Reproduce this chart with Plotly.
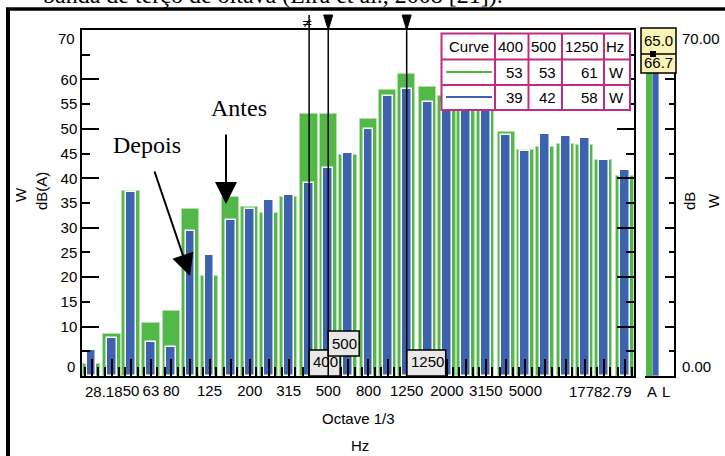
import numpy as np
import plotly.graph_objects as go

# 1/3-octave band centres (Hz)
bands = ["31.5", "40", "50", "63", "80", "100", "125", "160", "200", "250",
         "315", "400", "500", "630", "800", "1000", "1250", "1600", "2000",
         "2500", "3150", "4000", "5000", "6300", "8000", "10000", "12500", "16000"]
# Sound power level per band, before (Antes) and after (Depois)
antes = [2.5, 8.5, 37.5, 10.8, 13.2, 33.7, 20.3, 36.2, 34.1, 33.0,
         36.2, 53, 53, 44.7, 51.9, 57.9, 61, 58.5, 56.6,
         57.0, 56.0, 49.4, 45.8, 46.3, 47.0, 46.7, 43.8, 40.4]
depois = [5.3, 7.6, 37.2, 6.8, 5.9, 29.3, 24.5, 31.6, 33.8, 35.7,
          36.6, 39, 42, 45.2, 50.0, 56.7, 58, 55.4, 55.0,
          56.0, 55.0, 48.7, 45.6, 49.0, 48.5, 48.1, 43.6, 41.6]
labelled = ["50", "63", "80", "125", "200", "315", "500", "800",
            "1250", "2000", "3150", "5000"]
f_lo, f_hi = 28.18, 17782.79
cursor_bands = ["400", "500", "1250"]
total_names = ["A", "L"]
total_vals = [65.0, 66.7]
y_labels = [10, 15, 20, 25, 30, 35, 40, 45, 50, 55, 60]

GREEN = "#52b848"
BLUE = "#3e63ae"
MAGENTA = "#c22c80"
SANS = "Liberation Sans, Arial, sans-serif"
SERIF = "Liberation Serif, Times New Roman, serif"

W, H = 725, 456
ML, MR, MT, MB = 82, 51, 30, 80
PW, PH = W - ML - MR, H - MT - MB


def px(x):
    return (x - ML) / PW


def py(y):
    return (H - MB - y) / PH


xs = np.log10([float(b) for b in bands])
minor_vals = sorted([v + d for v in xs for d in (-1 / 30, 1 / 30)])

fig = go.Figure()
fig.add_bar(x=xs, y=antes, width=0.088, name="Antes",
            marker=dict(color=GREEN, line=dict(color="#b3dfab", width=1)))
fig.add_bar(x=xs, y=depois, width=0.05, name="Depois",
            marker=dict(color=BLUE, line=dict(color="white", width=1.5)))
# overall values panel
fig.add_bar(x=[0], y=[total_vals[0]], width=1, xaxis="x2", yaxis="y2",
            marker=dict(color=GREEN, line=dict(width=0)))
fig.add_bar(x=[1], y=[total_vals[1]], width=1, xaxis="x2", yaxis="y2",
            marker=dict(color=BLUE, line=dict(color="#8aa3d6", width=1)))
# carriers for the long-tick axes
fig.add_scatter(x=[None], y=[None], xaxis="x", yaxis="y3", showlegend=False)
fig.add_scatter(x=[None], y=[None], xaxis="x2", yaxis="y4", showlegend=False)

tick_common = dict(tickcolor="black", tickwidth=1.5, showgrid=False,
                   zeroline=False, linecolor="black", linewidth=1.5)

fig.update_layout(
    width=W, height=H, margin=dict(l=ML, r=MR, t=MT, b=MB),
    paper_bgcolor="white", plot_bgcolor="white", showlegend=False,
    barmode="overlay", bargap=0,
    font=dict(family=SANS, size=15, color="black"),
    xaxis=dict(domain=[0, 552 / PW], range=[np.log10(f_lo), np.log10(f_hi)],
               showline=True, mirror=True, ticks="inside", ticklen=17,
               tickvals=xs, ticktext=[b if b in labelled else "" for b in bands],
               minor=dict(ticks="inside", tickvals=minor_vals, ticklen=9,
                          tickcolor="black", tickwidth=1.5),
               tickfont=dict(size=15), **tick_common),
    yaxis=dict(domain=[0, 1], range=[0, 70], showline=True, mirror="ticks",
               ticks="inside", ticklen=8,
               tickvals=[5] + y_labels + [65],
               ticktext=[""] + [str(v) for v in y_labels] + [""],
               tickfont=dict(size=15), **tick_common),
    yaxis3=dict(overlaying="y", anchor="x", range=[0, 70], showline=True,
                mirror="ticks", ticks="inside", ticklen=17,
                tickvals=[10, 20, 30, 40, 50, 60], showticklabels=False,
                **tick_common),
    xaxis2=dict(domain=[px(645), 1], anchor="y2", range=[-0.67, 3.72],
                showline=True, ticks="", showticklabels=False, **tick_common),
    yaxis2=dict(domain=[0, 1], anchor="x2", side="right", range=[0, 70],
                showline=True, ticks="inside", ticklen=5,
                tickvals=list(range(5, 70, 5)), showticklabels=False,
                **tick_common),
    yaxis4=dict(overlaying="y2", anchor="x2", side="right", range=[0, 70],
                ticks="inside", ticklen=9, tickvals=[10, 20, 30, 40, 50, 60],
                showticklabels=False, **tick_common),
)

shapes = []
ann = []


def text(x, y, s, size=15, xanchor="center", family=SANS, angle=0, **kw):
    ann.append(dict(xref="paper", yref="paper", x=px(x), y=py(y), text=s,
                    showarrow=False, xanchor=xanchor, yanchor="middle",
                    textangle=angle, font=dict(family=family, size=size,
                                               color="black"), **kw))


# outer frame and cropped caption
shapes.append(dict(type="line", xref="paper", yref="paper", x0=px(8), x1=px(8),
                   y0=py(9), y1=py(460), line=dict(color="black", width=4)))
shapes.append(dict(type="line", xref="paper", yref="paper", x0=px(6), x1=px(730),
                   y0=py(9), y1=py(9), line=dict(color="black", width=3.5)))
text(505, -5, "banda de terço de oitava (Lira et al., 2008 [21]).", size=24,
     xanchor="right", family=SERIF)

# axis edge labels and titles
text(77, 38, "70", xanchor="right")
text(77, 366, "0", xanchor="right")
text(83, 391, f"{f_lo:.2f}", xanchor="left")
text(634, 391, f"{f_hi:.2f}", xanchor="right")
text(358, 418, "Octave 1/3")
text(360, 445, "Hz")
text(20, 195, "W", angle=-90)
text(41, 191, "dB(A)", angle=-90)
text(680, 38, "70.00", xanchor="left")
text(680, 366, "0.00", xanchor="left")
text(690, 201, "dB", angle=-90)
text(714, 201, "W", angle=-90)
text(651.5, 391, total_names[0])
text(666, 391, total_names[1])

# overall values box
shapes.append(dict(type="rect", xref="paper", yref="paper", x0=px(641), x1=px(676),
                   y0=py(28), y1=py(73), fillcolor="#faf3b4",
                   line=dict(color="black", width=1.5)))
shapes.append(dict(type="line", xref="paper", yref="paper", x0=px(641), x1=px(676),
                   y0=py(54), y1=py(54), line=dict(color="black", width=1.5)))
text(658.5, 41, f"{total_vals[0]:.1f}")
text(658.5, 63, f"{total_vals[1]:.1f}")
shapes.append(dict(type="rect", xref="paper", yref="paper", x0=px(650), x1=px(656),
                   y0=py(51), y1=py(57), fillcolor="black", line=dict(width=0)))

# cursor value boxes, lines and markers
box_geom = {"400": (31, 0, 26, 14.5), "500": (31, 20, 45, 33), "1250": (39, 0, 26, 14.5)}
for b in cursor_bands:
    xv = float(np.log10(float(b)))
    w, y0, y1, ty = box_geom[b]
    shapes.append(dict(type="rect", xref="x", yref="paper", xsizemode="pixel",
                       ysizemode="pixel", xanchor=xv, yanchor=0, x0=0, x1=w,
                       y0=y0, y1=y1, fillcolor="#e8e8e8",
                       line=dict(color="black", width=1.5)))
    ann.append(dict(xref="x", yref="paper", x=xv, y=0, xshift=w / 2 + 1,
                    yshift=ty, text=b, showarrow=False, xanchor="center",
                    yanchor="middle", font=dict(size=15, color="black")))
for b in cursor_bands:
    xv = float(np.log10(float(b)))
    shapes.append(dict(type="line", xref="x", yref="paper", x0=xv, x1=xv,
                       y0=0, y1=1 + 15 / PH, line=dict(color="black", width=1.5)))
    if b == "400":
        ann.append(dict(xref="x", yref="paper", x=xv, y=1, xshift=-2, yshift=8,
                        text="≠", showarrow=False, yanchor="middle",
                        font=dict(family="DejaVu Sans", size=13, color="black")))
    else:
        shapes.append(dict(type="path", xref="x", yref="paper", xsizemode="pixel",
                           ysizemode="pixel", xanchor=xv, yanchor=1,
                           path="M -4.5,15 L 4.5,15 L 0,0 Z", fillcolor="black",
                           line=dict(color="black", width=1)))

# cursor table
col_x = [441.5, 495, 528.5, 562, 604, 630]
row_y = [33.5, 59.5, 85, 110]
shapes.append(dict(type="rect", xref="paper", yref="paper", x0=px(col_x[0]),
                   x1=px(col_x[-1]), y0=py(row_y[0]), y1=py(row_y[-1]),
                   fillcolor="white", line=dict(color=MAGENTA, width=2)))
for cx in col_x[1:-1]:
    shapes.append(dict(type="line", xref="paper", yref="paper", x0=px(cx), x1=px(cx),
                       y0=py(row_y[0]), y1=py(row_y[-1]),
                       line=dict(color=MAGENTA, width=2)))
for ry in row_y[1:-1]:
    shapes.append(dict(type="line", xref="paper", yref="paper", x0=px(col_x[0]),
                       x1=px(col_x[-1]), y0=py(ry), y1=py(ry),
                       line=dict(color=MAGENTA, width=2)))
idx = [bands.index(b) for b in cursor_bands]
rows = [["Curve"] + cursor_bands + ["Hz"],
        [""] + [f"{antes[i]:.0f}" for i in idx] + ["W"],
        [""] + [f"{depois[i]:.0f}" for i in idx] + ["W"]]
for r, row in enumerate(rows):
    yc = (row_y[r] + row_y[r + 1]) / 2
    for c, s in enumerate(row):
        if s:
            text(col_x[c + 1] - 4, yc, s, xanchor="right")
for ry, colr in ((72, GREEN), (97, BLUE)):
    shapes.append(dict(type="line", xref="paper", yref="paper", x0=px(446), x1=px(492),
                       y0=py(ry), y1=py(ry), line=dict(color=colr, width=2)))

# Antes / Depois call-outs
text(238.5, 108, "Antes", size=24, family=SERIF)
text(147, 145, "Depois", size=24, family=SERIF)
for tip, tail in (((226, 204), (226, 133)), ((190, 276), (154, 170))):
    ann.append(dict(xref="paper", yref="paper", x=px(tip[0]), y=py(tip[1]),
                    ax=tail[0] - tip[0], ay=tail[1] - tip[1], text="",
                    showarrow=True, arrowhead=2, arrowsize=2.2, arrowwidth=2,
                    arrowcolor="black"))

fig.update_layout(shapes=shapes, annotations=ann)
fig.write_html("out.html")
